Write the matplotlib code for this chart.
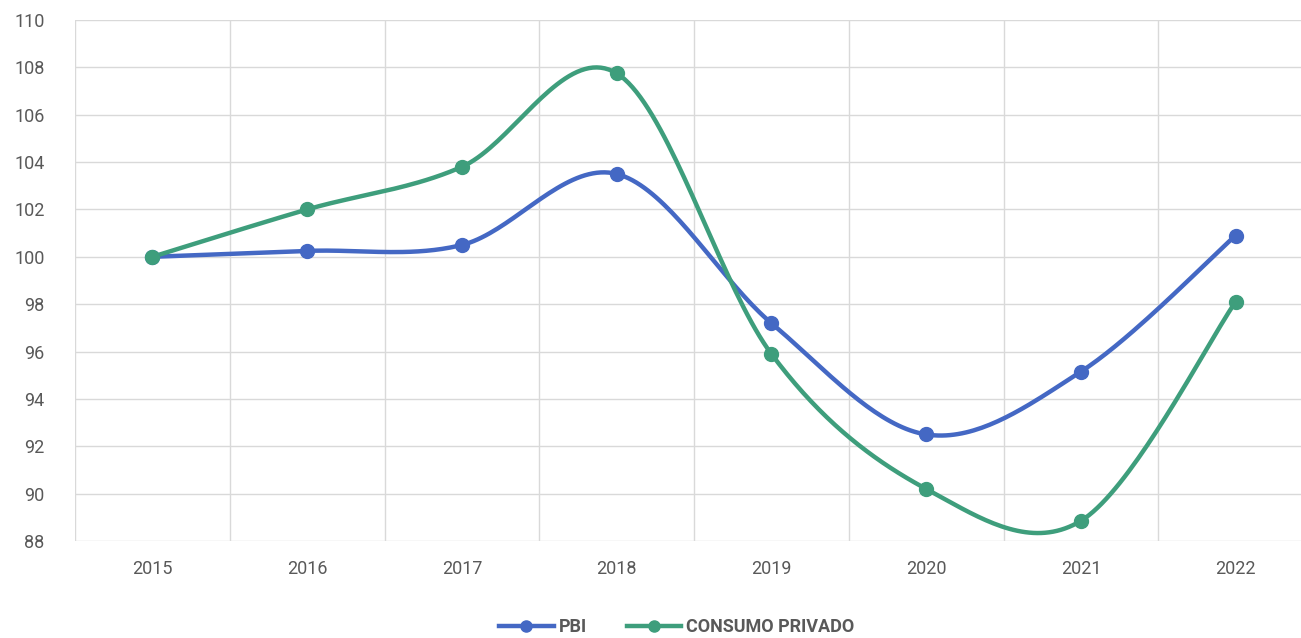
import numpy as np
import matplotlib
matplotlib.use("Agg")
import matplotlib.pyplot as plt
from matplotlib.lines import Line2D

# Data
years = ["2015", "2016", "2017", "2018", "2019", "2020", "2021", "2022"]
pbi = [100.0, 100.25, 100.5, 103.5, 97.2, 92.5, 95.15, 100.9]
consumo = [100.0, 102.0, 103.8, 107.75, 95.9, 90.2, 88.85, 98.1]

blue = "#4468c4"
green = "#3e9e7c"
grid_col = "#d9d9d9"
text_col = "#595959"

plt.rcParams['font.family'] = ['Roboto', 'DejaVu Sans']


# Excel-like smoothed line: cubic Bezier with neighbour-based tangents
def smooth(xs, ys, n=40):
    p = np.column_stack([xs, ys]).astype(float)
    out = []
    for i in range(len(p) - 1):
        p0 = p[i - 1] if i > 0 else p[i]
        p3 = p[i + 2] if i + 2 < len(p) else p[i + 1]
        c1 = p[i] + (p[i + 1] - p0) / 6.0
        c2 = p[i + 1] - (p3 - p[i]) / 6.0
        t = np.linspace(0, 1, n)[:, None]
        seg = ((1 - t) ** 3) * p[i] + 3 * ((1 - t) ** 2) * t * c1 + 3 * (1 - t) * t ** 2 * c2 + t ** 3 * p[i + 1]
        out.append(seg if i == 0 else seg[1:])
    out = np.vstack(out)
    return out[:, 0], out[:, 1]


fig = plt.figure(figsize=(13.01, 6.38), dpi=100)
ax = fig.add_axes([75 / 1301, 1 - 541 / 638, (1313 - 75) / 1301, (541 - 20) / 638])

x = np.arange(len(years))
for vals, col in [(pbi, blue), (consumo, green)]:
    sx, sy = smooth(x, vals)
    ax.plot(sx, sy, color=col, lw=3.2, solid_capstyle='round', zorder=3)
    ax.plot(x, vals, 'o', color=col, ms=10, zorder=4)

ax.set_xlim(-0.5, len(years) - 0.5)
ax.set_ylim(88, 110)
ax.set_yticks(np.arange(88, 111, 2))
ax.set_xticks(x)
ax.set_xticklabels(years)
ax.set_xticks(np.arange(-0.5, len(years), 1), minor=True)

ax.grid(axis='y', which='major', color=grid_col, lw=1)
ax.grid(axis='x', which='minor', color=grid_col, lw=1)
ax.set_axisbelow(True)
for s in ax.spines.values():
    s.set_visible(False)
ax.tick_params(which='both', length=0)
ax.tick_params(axis='y', pad=22, labelsize=13, labelcolor=text_col)
ax.tick_params(axis='x', pad=14, labelsize=13, labelcolor=text_col)

handles = [
    Line2D([], [], color=blue, lw=3.2, marker='o', ms=8),
    Line2D([], [], color=green, lw=3.2, marker='o', ms=8),
]
leg = fig.legend(handles, ["PBI", "CONSUMO PRIVADO"], loc='center', bbox_to_anchor=(677 / 1301, 1 - 627 / 638),
                 ncol=2, frameon=False, handlelength=3.0, handletextpad=0.3, columnspacing=2.2,
                 prop={'size': 13, 'weight': 'bold'})
for t in leg.get_texts():
    t.set_color(text_col)

fig.savefig("out.png", dpi=100)
